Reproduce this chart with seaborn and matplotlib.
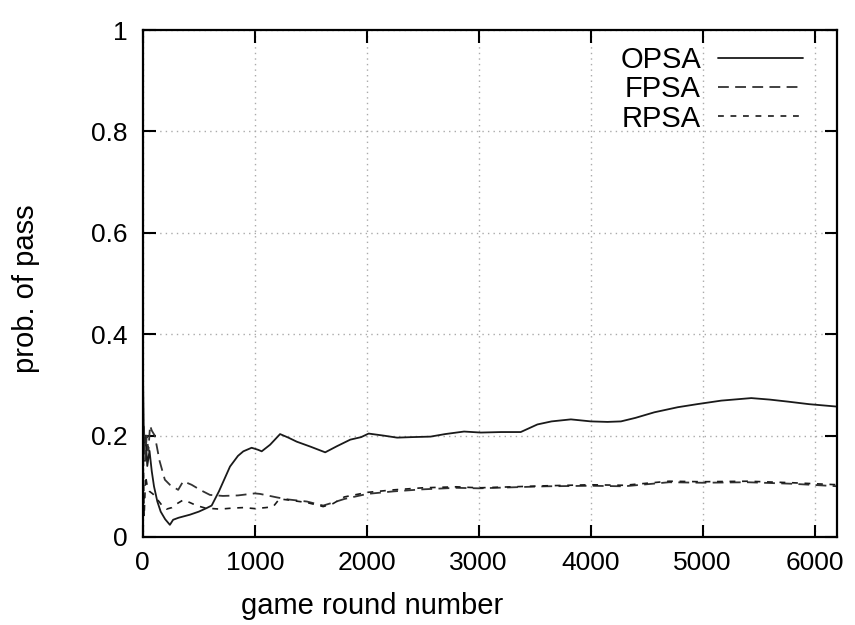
import matplotlib
matplotlib.use("Agg")
import matplotlib.pyplot as plt
import seaborn as sns
import pandas as pd

opsa_x = [0, 3, 8, 15, 25, 40, 60, 80, 100, 130, 160, 200, 242, 271, 320, 421, 500, 570, 615, 680,
          779, 850, 898, 972, 1030, 1062, 1137, 1226, 1300, 1375, 1500, 1629, 1733, 1853, 1950, 2017,
          2150, 2271, 2400, 2570, 2700, 2869, 3018, 3200, 3375, 3524, 3650, 3823, 4002, 4150, 4270,
          4400, 4569, 4778, 4950, 5166, 5434, 5600, 5762, 5950, 6210]
opsa_y = [0.50, 0.30, 0.22, 0.18, 0.20, 0.14, 0.17, 0.13, 0.10, 0.07, 0.05, 0.035, 0.024, 0.034, 0.038,
          0.044, 0.050, 0.057, 0.062, 0.09, 0.139, 0.16, 0.169, 0.176, 0.172, 0.169, 0.182, 0.203,
          0.196, 0.188, 0.178, 0.167, 0.179, 0.192, 0.197, 0.204, 0.200, 0.196, 0.197, 0.198, 0.203,
          0.208, 0.206, 0.207, 0.207, 0.222, 0.228, 0.232, 0.228, 0.227, 0.228, 0.235, 0.246, 0.256,
          0.262, 0.269, 0.274, 0.271, 0.267, 0.262, 0.257]

fpsa_x = [0, 10, 20, 35, 50, 65, 80, 107, 150, 197, 242, 316, 361, 436, 520, 600, 716, 850, 1000,
          1047, 1200, 1300, 1465, 1611, 1700, 1800, 2005, 2240, 2500, 2800, 3000, 3300, 3600, 4000,
          4300, 4700, 5000, 5400, 5800, 6210]
fpsa_y = [0.12, 0.22, 0.15, 0.20, 0.17, 0.22, 0.21, 0.20, 0.15, 0.113, 0.103, 0.093, 0.11, 0.103,
          0.092, 0.083, 0.081, 0.082, 0.086, 0.085, 0.078, 0.074, 0.07, 0.062, 0.068, 0.075, 0.085,
          0.09, 0.094, 0.097, 0.096, 0.098, 0.100, 0.101, 0.100, 0.108, 0.107, 0.108, 0.105, 0.100]

rpsa_x = [0, 5, 12, 25, 40, 60, 90, 134, 180, 212, 260, 300, 361, 420, 480, 560, 690, 800, 900,
          1000, 1100, 1165, 1220, 1300, 1465, 1611, 1700, 1800, 2005, 2240, 2500, 2800, 3000, 3300,
          3600, 4000, 4300, 4700, 5000, 5400, 5800, 6210]
rpsa_y = [0.05, 0.15, 0.04, 0.12, 0.10, 0.09, 0.085, 0.073, 0.06, 0.055, 0.058, 0.065, 0.073, 0.068,
          0.062, 0.057, 0.055, 0.057, 0.058, 0.056, 0.058, 0.06, 0.075, 0.073, 0.068, 0.060, 0.066,
          0.079, 0.088, 0.093, 0.097, 0.099, 0.097, 0.099, 0.101, 0.103, 0.102, 0.110, 0.109, 0.110,
          0.107, 0.103]

series_names = ["OPSA", "FPSA", "RPSA"]
x_ticks = [0, 1000, 2000, 3000, 4000, 5000, 6000]
y_ticks = [0, 0.2, 0.4, 0.6, 0.8, 1]
y_tick_labels = ["0", "0.2", "0.4", "0.6", "0.8", "1"]

sns.set_theme(style="white")
plt.rcParams["font.family"] = ["Liberation Sans", "DejaVu Sans"]
plt.rcParams["text.color"] = "black"
plt.rcParams["axes.labelcolor"] = "black"
plt.rcParams["xtick.color"] = "black"
plt.rcParams["ytick.color"] = "black"

fig = plt.figure(figsize=(8.55, 6.25), dpi=100)
ax = fig.add_axes([0.167, 0.1408, 0.812, 0.8112])

styles = {
    "OPSA": dict(color="#1a1a1a", linewidth=1.3, linestyle="-"),
    "FPSA": dict(color="#333333", linewidth=1.3, linestyle=(0, (6, 3.5))),
    "RPSA": dict(color="#1a1a1a", linewidth=1.2, linestyle=(0, (3.5, 4))),
}
data = {"OPSA": (opsa_x, opsa_y), "FPSA": (fpsa_x, fpsa_y), "RPSA": (rpsa_x, rpsa_y)}

for name in series_names:
    xs, ys = data[name]
    df = pd.DataFrame({"x": xs, "y": ys})
    sns.lineplot(data=df, x="x", y="y", ax=ax, estimator=None, sort=False,
                 label=name, **styles[name])

ax.set_xlim(0, 6200)
ax.set_ylim(0, 1)
ax.set_xticks(x_ticks)
ax.set_yticks(y_ticks)
ax.set_yticklabels(y_tick_labels)
ax.tick_params(direction="in", length=9, width=1.5, labelsize=19, colors="black",
               top=True, right=True, bottom=True, left=True)
ax.tick_params(axis="y", pad=11)
ax.tick_params(axis="x", pad=10)
for sp in ax.spines.values():
    sp.set_linewidth(1.6)
    sp.set_color("black")
ax.grid(True, color="#aaaaaa", linestyle=(0, (1, 3)), linewidth=1.0)
ax.set_axisbelow(True)

ax.set_xlabel("game round number", fontsize=21, color="black", va="top")
ax.xaxis.set_label_coords(0.33, -0.108)
ax.set_ylabel("prob. of pass", fontsize=21, color="black")
ax.yaxis.set_label_coords(-0.148, 0.49)

leg = ax.legend(loc="upper right", frameon=False, markerfirst=False, fontsize=21,
                handlelength=2.9, handletextpad=0.6, labelspacing=0.05,
                borderaxespad=0.0, borderpad=0.0, bbox_to_anchor=(0.951, 0.969))
for t in leg.get_texts():
    t.set_ha("right")
    t.set_color("black")

fig.savefig("out.png", dpi=100)
